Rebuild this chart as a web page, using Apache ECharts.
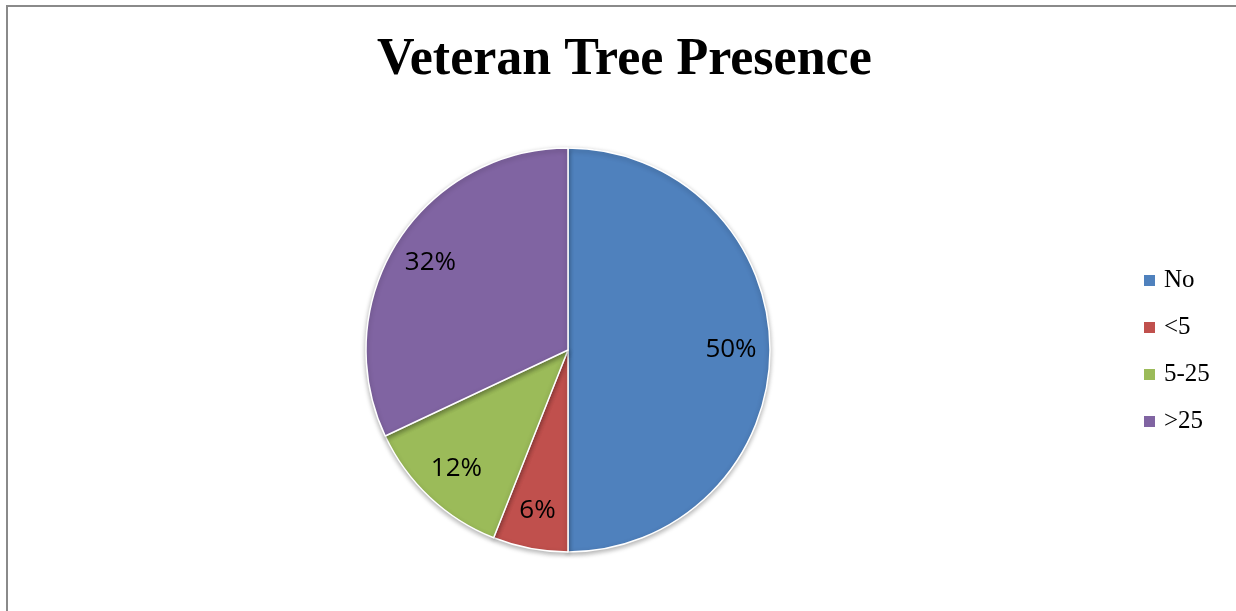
<!DOCTYPE html>
<html>
<head>
<meta charset="utf-8">
<title>Veteran Tree Presence</title>
<script src="https://cdn.jsdelivr.net/npm/echarts@6/dist/echarts.min.js"></script>
<style>
  html, body { margin: 0; padding: 0; background: #fff; }
  #frame {
    position: absolute; left: 6px; top: 5px; right: 0; bottom: 0;
    border-left: 2px solid #8a8a8a; border-top: 2px solid #8a8a8a;
    pointer-events: none;
  }
  #chart { position: absolute; left: 0; top: 0; width: 1236px; height: 611px; }
</style>
</head>
<body>
<div id="chart"></div>
<div id="frame"></div>
<script>
// Share of surveyed sites by number of veteran trees
const categories = ['No', '<5', '5-25', '>25'];
const shares = [50, 6, 12, 32];
const colors = ['#4F81BD', '#C0504D', '#9BBB59', '#8064A2'];

const pieData = categories.map((name, i) => ({ name, value: shares[i] }));

const chart = echarts.init(document.getElementById('chart'), null, { renderer: 'canvas' });

chart.setOption({
  animation: false,
  color: colors,
  title: {
    text: 'Veteran Tree Presence',
    left: 372,
    top: 30,
    textStyle: {
      fontFamily: '"Liberation Serif", "DejaVu Serif", serif',
      fontWeight: 'bold',
      fontSize: 52,
      color: '#000'
    }
  },
  legend: {
    orient: 'vertical',
    left: 1137,
    top: 263,
    icon: 'rect',
    itemWidth: 13,
    itemHeight: 13,
    itemGap: 22,
    selectedMode: false,
    data: categories,
    textStyle: {
      fontFamily: '"Liberation Serif", "DejaVu Serif", serif',
      fontSize: 25,
      lineHeight: 25,
      color: '#000',
      padding: [0, 0, 0, 3]
    }
  },
  series: [
    {
      // the pie itself
      type: 'pie',
      center: [568, 350],
      radius: [0, 202],
      startAngle: 90,
      clockwise: true,
      silent: true,
      label: { show: false },
      labelLine: { show: false },
      itemStyle: {
        borderColor: '#fff',
        borderWidth: 1.5,
        shadowBlur: 5,
        shadowColor: 'rgba(0,0,0,0.3)',
        shadowOffsetY: 2
      },
      data: pieData
    },
    {
      // transparent ring carrying the percentage labels
      type: 'pie',
      center: [568, 350],
      radius: [118, 202],
      startAngle: 90,
      clockwise: true,
      silent: true,
      legendHoverLink: false,
      itemStyle: { color: 'rgba(0,0,0,0)' },
      label: {
        show: true,
        position: 'inside',
        formatter: p => p.value + '%',
        fontFamily: '"Open Sans", Lato, sans-serif',
        fontSize: 26,
        color: '#000'
      },
      labelLine: { show: false },
      data: categories.map((name, i) => ({ name: name + ' ', value: shares[i] }))
    }
  ]
});
</script>
</body>
</html>
